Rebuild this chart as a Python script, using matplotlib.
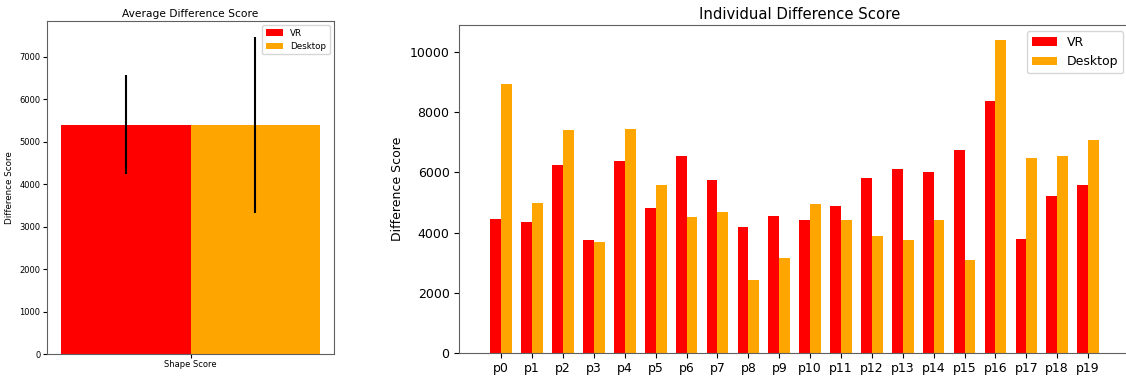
import matplotlib
matplotlib.use("Agg")
import matplotlib.pyplot as plt
import numpy as np

participants = ["p%d" % i for i in range(20)]
vr_scores = [4451, 4341, 6259, 3741, 6392, 4827, 6548, 5739, 4184, 4550,
             4428, 4883, 5816, 6125, 6015, 6758, 8379, 3795, 5227, 5583]
desktop_scores = [8945, 4983, 7414, 3674, 7447, 5593, 4517, 4684, 2430, 3163,
                  4939, 4428, 3895, 3762, 4428, 3096, 10400, 6482, 6548, 7071]

avg_labels = ["Shape Score"]
avg_vr = [5405]
avg_desktop = [5395]
err_vr = [1160]
err_desktop = [2065]

W, H, DPI = 1126, 377, 100
fig = plt.figure(figsize=(W / DPI, H / DPI), dpi=DPI)

spine_col = "#606060"
w = 0.35

# average scores with std error bars
ax1 = fig.add_axes([46.7 / W, 23 / H, 287.6 / W, 333.3 / H])
x = np.arange(len(avg_labels))
ax1.bar(x - w / 2, avg_vr, w, yerr=err_vr, color="red", label="VR",
        error_kw=dict(ecolor="black", elinewidth=1.5))
ax1.bar(x + w / 2, avg_desktop, w, yerr=err_desktop, color="orange", label="Desktop",
        error_kw=dict(ecolor="black", elinewidth=1.5))
ax1.set_xlim(-0.388, 0.388)
ax1.set_ylim(0, 7850)
ax1.set_xticks(x)
ax1.set_xticklabels(avg_labels)
ax1.tick_params(labelsize=6, length=3, pad=1.5)
ax1.set_ylabel("Difference Score", fontsize=6.3, labelpad=4)
ax1.set_title("Average Difference Score", fontsize=7.7, pad=3)
ax1.legend(fontsize=6.3, loc="upper right")

# per-participant scores; axes runs past the right edge of the figure
ax2 = fig.add_axes([459.3 / W, 24.3 / H, 680.7 / W, 328 / H])
xi = np.arange(len(participants))
ax2.bar(xi - w / 2, vr_scores, w, color="red", label="VR")
ax2.bar(xi + w / 2, desktop_scores, w, color="orange", label="Desktop")
ax2.set_xlim(-1.36, 20.68)
ax2.set_ylim(0, 10920)
ax2.set_xticks(xi)
ax2.set_xticklabels(participants, fontsize=9)
ax2.tick_params(axis="y", labelsize=9)
ax2.set_ylabel("Difference Score", fontsize=9)
ax2.set_title("Individual Difference Score", fontsize=10.7, pad=4)
ax2.legend(fontsize=9, loc="upper right", bbox_to_anchor=(1123 / W, 346 / H),
           bbox_transform=fig.transFigure, borderaxespad=0)

for ax in (ax1, ax2):
    for s in ax.spines.values():
        s.set_color(spine_col)

fig.savefig("out.png", dpi=DPI)
